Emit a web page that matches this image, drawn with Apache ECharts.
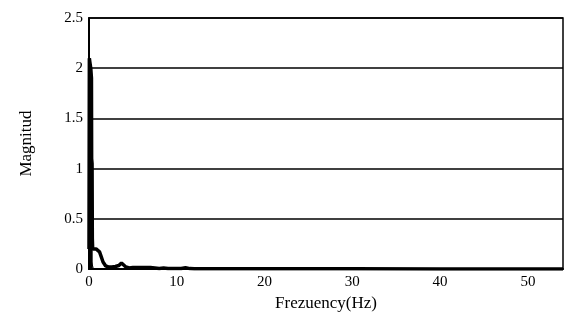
<!DOCTYPE html>
<html>
<head>
<meta charset="utf-8">
<script src="https://cdn.jsdelivr.net/npm/echarts@6/dist/echarts.min.js"></script>
<style>
  html, body { margin: 0; padding: 0; background: #fff; }
  #chart { width: 566px; height: 322px; }
</style>
</head>
<body>
<div id="chart"></div>
<script>
// spectrum
const freq = [0, 0.04, 0.1, 0.2, 0.28, 0.3, 0.35, 0.38, 0.42,
  0.6, 0.8, 1.0, 1.2, 1.4, 1.6, 1.9, 2.2, 2.6, 3.0, 3.4, 3.7, 3.9, 4.2, 4.6, 5, 6, 7, 7.5, 8, 8.5, 9, 10, 10.5, 11, 11.5, 12, 14, 20, 30, 40, 54];
const magnitude = [0.2, 2.1, 2.06, 2.0, 1.9, 1.1, 1.05, 0.3, 0.2,
  0.2, 0.2, 0.19, 0.17, 0.12, 0.07, 0.03, 0.02, 0.02, 0.025, 0.035, 0.06, 0.05, 0.02, 0.01, 0.015, 0.015, 0.015, 0.01, 0.005, 0.01, 0.005, 0.005, 0.005, 0.012, 0.004, 0.003, 0.003, 0.002, 0.002, 0.001, 0.001];
// dense oscillation under the spike, drawn as a filled band
const spikeFreq = [0.02, 0.04, 0.1, 0.2, 0.28, 0.3, 0.35, 0.38, 0.42];
const spikeMag = [2.08, 2.1, 2.06, 2.0, 1.9, 1.1, 1.05, 0.3, 0.2];
// thin inner trace near the origin
const freq2 = [0, 0.1, 0.5];
const magnitude2 = [0.17, 0.17, 0];

const xTicks = [0, 10, 20, 30, 40, 50];
const yTicks = [0, 0.5, 1, 1.5, 2, 2.5];

let myChart = echarts.init(document.getElementById('chart'));
const font = "'Liberation Serif', 'DejaVu Serif', serif";

let option = {
  animation: false,
  grid: {
    left: 89, right: 0, top: 18, bottom: 53,
    show: true, borderColor: '#000', borderWidth: 1.5
  },
  xAxis: {
    type: 'value',
    min: 0, max: 54, interval: 10,
    name: 'Frezuency(Hz)',
    nameLocation: 'middle',
    nameGap: 25,
    nameTextStyle: { fontFamily: font, fontSize: 17, color: '#000' },
    axisLine: { lineStyle: { color: '#000', width: 2 } },
    axisTick: { show: false },
    splitLine: { show: false },
    axisLabel: {
      fontFamily: font, fontSize: 15, color: '#000', margin: 6,
      formatter: v => xTicks.includes(v) ? String(v) : ''
    }
  },
  yAxis: {
    type: 'value',
    min: 0, max: 2.5, interval: 0.5,
    name: 'Magnitud',
    nameLocation: 'middle',
    nameGap: 54,
    nameTextStyle: { fontFamily: font, fontSize: 17, color: '#000' },
    axisLine: { show: true, lineStyle: { color: '#000', width: 2 } },
    axisTick: { show: false },
    splitLine: { lineStyle: { color: '#000', width: 1.5 } },
    axisLabel: {
      fontFamily: font, fontSize: 15, color: '#000', margin: 6,
      formatter: v => yTicks.includes(v) ? String(v) : ''
    }
  },
  series: [
    {
      type: 'line',
      data: spikeFreq.map((f, i) => [f, spikeMag[i]]),
      showSymbol: false,
      lineStyle: { color: '#000', width: 1.5 },
      areaStyle: { color: '#000', opacity: 1 }
    },
    {
      type: 'line',
      data: freq.map((f, i) => [f, magnitude[i]]),
      showSymbol: false,
      lineStyle: { color: '#000', width: 3.5 }
    },
    {
      type: 'line',
      data: freq2.map((f, i) => [f, magnitude2[i]]),
      showSymbol: false,
      lineStyle: { color: '#000', width: 1 }
    }
  ]
};
myChart.setOption(option);
</script>
</body>
</html>
